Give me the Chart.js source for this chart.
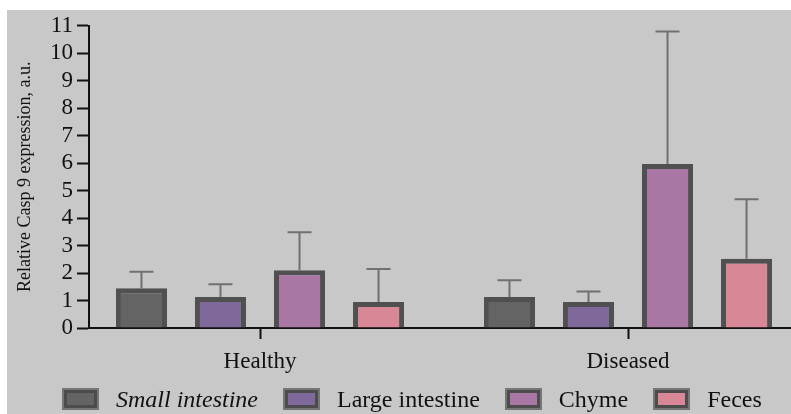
<!DOCTYPE html>
<html>
<head>
<meta charset="utf-8">
<script src="https://cdn.jsdelivr.net/npm/chart.js@4"></script>
<style>
    body {margin: 0; background: #fff; overflow: hidden;}
    #marco {position: absolute; left: 7px; top: 10px; width: 784px; height: 404px; background: #c8c8c8;}
    #grafico {position: absolute; left: 0; top: 0;}
    #leyenda {position: absolute; left: 56px; top: 375px; height: 28px; display: flex; align-items: center;
        font-family: "Liberation Serif", serif; font-size: 24px; color: #111; white-space: nowrap;}
    .item {display: flex; align-items: center; margin-right: 26px;}
    .caja {width: 27px; height: 12px; border: 4px solid #4c4c4c; outline: 2px solid #767676; outline-offset: -1px; margin-right: 18px;}
</style>
</head>
<body>
<div id="marco">
    <canvas id="grafico" width="784" height="404"></canvas>
    <div id="leyenda"></div>
</div>
<script>
// Datos
const categorias = ["Healthy", "Diseased"];
const series = ["Small intestine", "Large intestine", "Chyme", "Feces"];
const colores = ["#646464", "#7f699b", "#a877a3", "#d88797"];

const intestinoDelgado = [1.45, 1.13];
const intestinoGrueso = [1.13, 0.95];
const quimo = [2.1, 5.96];
const heces = [0.95, 2.52];

// extremo superior de la barra de error
const errDelgado = [2.05, 1.74];
const errGrueso = [1.59, 1.33];
const errQuimo = [3.48, 10.78];
const errHeces = [2.15, 4.68];

const ticksY = [0, 1, 2, 3, 4, 5, 6, 7, 8, 9, 10, 11];

const valores = [intestinoDelgado, intestinoGrueso, quimo, heces];
const errores = [errDelgado, errGrueso, errQuimo, errHeces];

// Barras de error (solo hacia arriba)
const barrasError = {
    id: "barrasError",
    afterDatasetsDraw(chart) {
        const ctx = chart.ctx;
        const escalaY = chart.scales.y;
        ctx.save();
        ctx.strokeStyle = "#707070";
        ctx.lineWidth = 2;
        chart.data.datasets.forEach((ds, i) => {
            const meta = chart.getDatasetMeta(i);
            meta.data.forEach((barra, j) => {
                const yTop = escalaY.getPixelForValue(errores[i][j]);
                ctx.beginPath();
                ctx.moveTo(barra.x, barra.y);
                ctx.lineTo(barra.x, yTop);
                ctx.moveTo(barra.x - 12, yTop);
                ctx.lineTo(barra.x + 12, yTop);
                ctx.stroke();
            });
        });
        ctx.restore();
    }
};

const fuente = "'Liberation Serif', 'Times New Roman', serif";

new Chart(document.getElementById("grafico"), {
    type: "bar",
    data: {
        labels: categorias,
        datasets: series.map((nombre, i) => ({
            label: nombre,
            data: valores[i],
            backgroundColor: colores[i],
            borderColor: "#505050",
            borderWidth: 5,
            borderSkipped: "bottom",
            categoryPercentage: 0.859,
            barPercentage: 0.646
        }))
    },
    options: {
        responsive: false,
        animation: false,
        layout: {padding: {left: 0, right: 0, top: 14, bottom: 0}},
        plugins: {legend: {display: false}, tooltip: {enabled: false}},
        scales: {
            x: {
                grid: {display: true, drawOnChartArea: false, offset: false, tickLength: 11, tickWidth: 2, color: "#111"},
                border: {display: true, color: "#111", width: 2},
                ticks: {color: "#111", font: {family: fuente, size: 23}, padding: 9},
                afterBuildTicks: escala => {
                    // desplazar las categorías como en el original
                    escala._startValue = -0.4647;
                    escala._valueRange = 1.9076;
                },
                afterFit: escala => {escala.height = 86;}
            },
            y: {
                min: 0,
                max: 11,
                afterBuildTicks: escala => {escala.ticks = ticksY.map(v => ({value: v}));},
                grid: {display: true, drawOnChartArea: false, tickLength: 12, tickWidth: 2, color: "#111"},
                border: {display: true, color: "#111", width: 2},
                ticks: {color: "#111", font: {family: fuente, size: 23, lineHeight: 1}, padding: 4, autoSkip: false},
                title: {
                    display: true,
                    text: "Relative Casp 9 expression, a.u.",
                    color: "#111",
                    font: {family: fuente, size: 18},
                    padding: {top: 7, bottom: 0}
                },
                afterFit: escala => {escala.width = 82;}
            }
        }
    },
    plugins: [barrasError]
});

// Leyenda HTML (el primer elemento va en cursiva)
const leyenda = document.getElementById("leyenda");
series.forEach((nombre, i) => {
    const item = document.createElement("div");
    item.className = "item";
    const caja = document.createElement("span");
    caja.className = "caja";
    caja.style.background = colores[i];
    const texto = document.createElement("span");
    texto.textContent = nombre;
    if (i === 0) {texto.style.fontStyle = "italic";}
    item.appendChild(caja);
    item.appendChild(texto);
    leyenda.appendChild(item);
});
</script>
</body>
</html>
